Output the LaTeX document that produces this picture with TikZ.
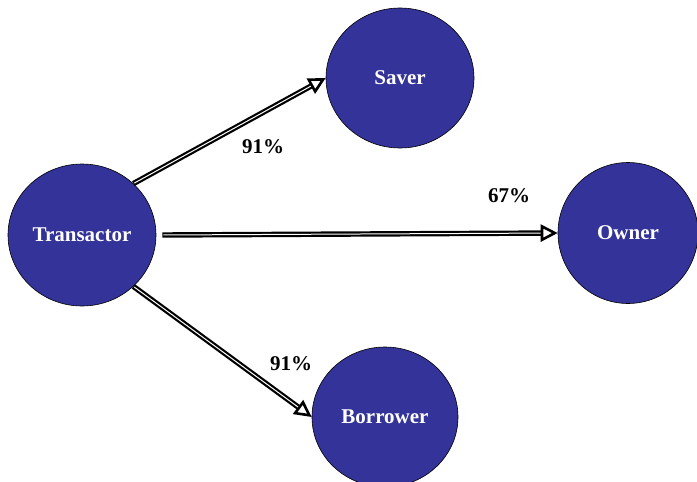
\documentclass[tikz,border=0pt]{standalone}
\usepackage{fontspec}
\setmainfont{Liberation Serif}
\usetikzlibrary{arrows.meta}
\usetikzlibrary{shapes.geometric}

\definecolor{roleblue}{RGB}{51,51,153}

\tikzset{
  role/.style={ellipse, draw=black, line width=0.6pt, fill=roleblue, inner sep=0pt,
    text=white, font=\fontsize{21}{25}\selectfont\bfseries},
  share/.style={text=black, font=\fontsize{21}{25}\selectfont\bfseries},
  flow/.style={draw=black, line width=5.4pt,
    -{Triangle[open, length=17pt, width=17pt, line width=2.6pt]},
    postaction={draw=white, line width=1pt, arrows=-, shorten >=17pt, shorten <=1pt}}
}

\begin{document}
\begin{tikzpicture}[x=1pt,y=-1pt]
\useasboundingbox (0,0) rectangle (697,482);
\clip (0,0) rectangle (697,482);

\node[role, minimum width=148pt, minimum height=142pt] (transactor) at (82,235) {Transactor};
\node[role, minimum width=148pt, minimum height=140pt] (saver) at (400,78) {Saver};
\node[role, minimum width=140pt, minimum height=141pt] (owner) at (628,233) {Owner};
\node[role, minimum width=146pt, minimum height=140pt] (borrower) at (385,417) {Borrower};

\draw[flow] (transactor.45) -- (saver.west);
\draw[flow] ([xshift=6pt]transactor.east) -- (owner.west);
\draw[flow] (transactor.-45) -- (borrower.west);

\node[share] (saverpct) at (263,147) {91\%};
\node[share] (ownerpct) at (509,196) {67\%};
\node[share] (borrowerpct) at (291,364) {91\%};
\end{tikzpicture}
\end{document}
